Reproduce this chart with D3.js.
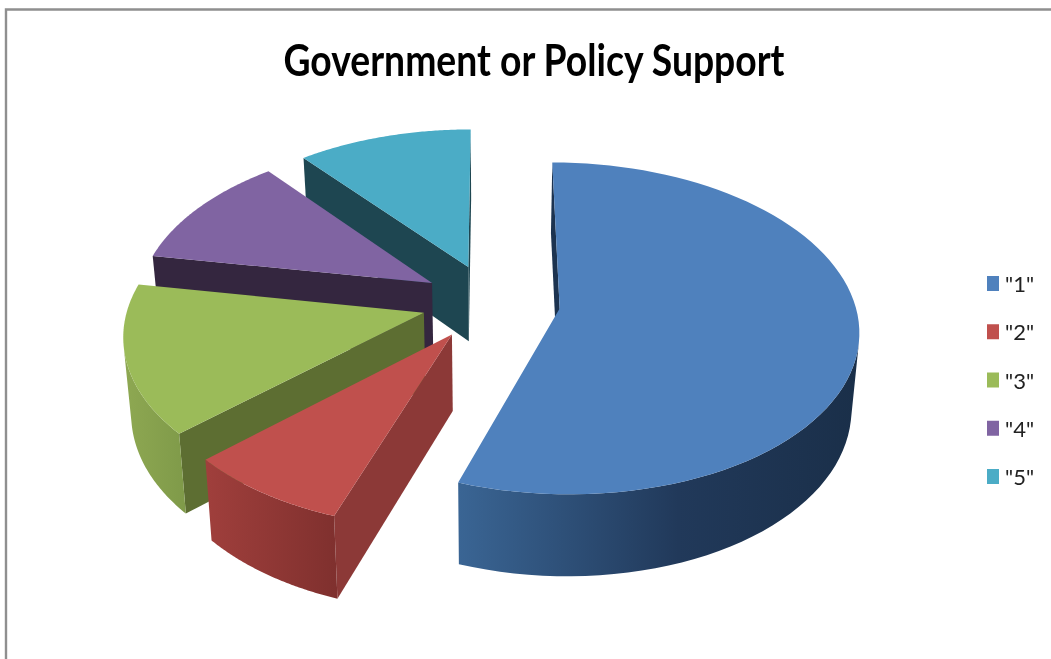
<!DOCTYPE html>
<html>
<head>
<meta charset="utf-8">
<script src="https://cdn.jsdelivr.net/npm/d3@7"></script>
<style>
  html, body { margin: 0; padding: 0; background: #fff; overflow: hidden; }
  svg { display: block; filter: blur(0.5px); }
</style>
</head>
<body>
<div id="pie-container"></div>
<script>
const title = 'Government or Policy Support';
const categories = ['"1"', '"2"', '"3"', '"4"', '"5"'];
const values = [55.35, 7.85, 14.6, 11.3, 10.9];

const topColors = ['#4f81bd', '#c0504d', '#9bbb59', '#8064a2', '#4bacc6'];
const cutColors = ['#1c3350', '#8c3937', '#5d6e32', '#34263f', '#1e4651'];
const rimLeft = ['#3a6594', '#a03f3c', '#8ea852', '#5f4a78', '#38808f'];
const rimRight = ['#1a2f49', '#7f302e', '#7f9a49', '#4a3a5e', '#2c6470'];

const width = 1051, height = 659;

// disc -> screen, the tilt is a small perspective so the far side looks shorter
const centerX = 491, centerY = 302;
const radiusX = 295, radiusY = 162, depth = 77;
const perspective = 0.12, shrink = 0.022;
const explode = 0.235;

function project(u, v, z) {
  const w = (1 + perspective * v) * (1 + shrink * z);
  return [centerX + radiusX * u / w, centerY + (depth * z - radiusY * v) / w];
}

const svg = d3.select('#pie-container')
  .append('svg')
  .attr('width', width)
  .attr('height', height);

const defs = svg.append('defs');
const line = d3.line();

// frame of the pasted chart
svg.append('path')
  .attr('d', line([[6, height], [6, 9.5], [width, 9.5]]))
  .attr('fill', 'none')
  .attr('stroke', '#8f8f8f')
  .attr('stroke-width', 2.4);

svg.append('text')
  .attr('x', 534).attr('y', 76)
  .attr('text-anchor', 'middle')
  .attr('font-family', 'Lato, "Open Sans", sans-serif')
  .attr('font-weight', 700)
  .attr('font-size', 43)
  .attr('textLength', 501)
  .attr('lengthAdjust', 'spacingAndGlyphs')
  .attr('fill', '#000')
  .text(title);

const pie = d3.pie().sort(null).value(d => d);
const slices = pie(values).map((d, i) => {
  const mid = (d.startAngle + d.endAngle) / 2;
  return { ...d, i, ox: explode * Math.sin(mid), oy: explode * Math.cos(mid) };
});

// far slices first
const order = slices.slice().sort((a, b) => b.oy - a.oy);

order.forEach(s => {
  const g = svg.append('g');
  const steps = d3.range(0, 81).map(k => s.startAngle + (s.endAngle - s.startAngle) * k / 80);
  const rim = z => steps.map(a => project(s.ox + Math.sin(a), s.oy + Math.cos(a), z));
  const apex = z => project(s.ox, s.oy, z);
  const rimTop = rim(0), rimBottom = rim(1);

  // cut faces, only the ones turned to the viewer
  [[apex(0), rimTop[0], rimBottom[0], apex(1)],
   [rimTop[80], apex(0), apex(1), rimBottom[80]]].forEach(quad => {
    if (d3.polygonArea(quad) > 0) {
      g.append('path').attr('d', line(quad) + 'Z').attr('fill', cutColors[s.i]);
    }
  });

  // outer wall, keep the front facing part of the rim
  const keep = d3.range(0, 80).filter(k =>
    d3.polygonArea([rimTop[k], rimTop[k + 1], rimBottom[k + 1], rimBottom[k]]) > 0);
  if (keep.length) {
    const a = keep[0], b = keep[keep.length - 1] + 1;
    const wall = rimTop.slice(a, b + 1).concat(rimBottom.slice(a, b + 1).reverse());
    const [x0, x1] = d3.extent(wall, p => p[0]);
    const id = 'wall' + s.i;
    const grad = defs.append('linearGradient').attr('id', id)
      .attr('gradientUnits', 'userSpaceOnUse')
      .attr('x1', x0).attr('x2', x1).attr('y1', 0).attr('y2', 0);
    const stops = s.i === 0
      ? [[0, rimLeft[0]], [0.55, '#21395a'], [1, rimRight[0]]]
      : [[0, rimLeft[s.i]], [1, rimRight[s.i]]];
    stops.forEach(st => grad.append('stop').attr('offset', st[0]).attr('stop-color', st[1]));
    g.append('path').attr('d', line(wall) + 'Z').attr('fill', `url(#${id})`);
  }

  g.append('path')
    .attr('d', line([apex(0)].concat(rimTop)) + 'Z')
    .attr('fill', topColors[s.i]);
});

// legend
const legendY = d3.scalePoint().domain(categories).range([283, 476]);
const legend = svg.selectAll('.legend').data(categories).enter()
  .append('g')
  .attr('class', 'legend')
  .attr('transform', d => `translate(987, ${legendY(d)})`);
legend.append('rect')
  .attr('x', 0).attr('y', -7)
  .attr('width', 12).attr('height', 15)
  .attr('fill', (_, i) => topColors[i]);
legend.append('text')
  .attr('x', 18).attr('y', 9)
  .attr('font-family', 'Lato, "Open Sans", sans-serif')
  .attr('font-size', 22)
  .attr('fill', '#222')
  .text(d => d);
</script>
</body>
</html>
